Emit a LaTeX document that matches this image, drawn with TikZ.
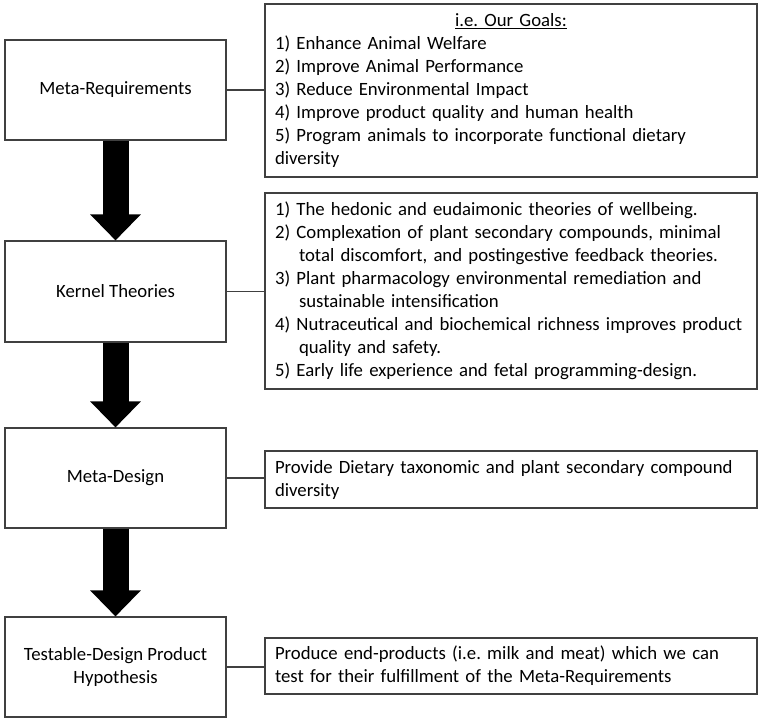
\documentclass[tikz,border=0pt]{standalone}
\usepackage{fontspec}
\setmainfont{Carlito}
\usetikzlibrary{arrows.meta}
\frenchspacing
\begin{document}
\begin{tikzpicture}[x=1pt,y=-1pt,
  box/.style={draw=black!75, line width=1.1pt, fill=white, inner sep=0pt, font=\fontsize{18.75}{23}\selectfont},
  lbox/.style={box, minimum width=221pt, minimum height=100pt, align=center},
  rbox/.style={box, minimum width=492pt, text width=472pt, inner xsep=10pt},
  link/.style={draw=black!75, line width=1.1pt},
  bigarrow/.style={line width=26pt, -{Triangle[width=49pt, length=26pt]}}
]
\useasboundingbox (0,0) rectangle (765,721);
% left column
\node[lbox] (mr) at (115.5,90) {Meta-Requirements};
\node[lbox, minimum height=101pt] (kt) at (115.5,291.5) {Kernel Theories};
\node[lbox] (md) at (115.5,478) {Meta-Design};
\node[lbox] (td) at (115.5,667) {Testable-Design Product\\Hypothesis};
% arrows
\draw[bigarrow] (mr.south) -- (kt.north);
\draw[bigarrow] (kt.south) -- (md.north);
\draw[bigarrow] (md.south) -- (td.north);
% right column
\node[rbox, minimum height=173pt] (goals) at (511,90.5) {\centering\underline{i.e.\ Our Goals:}\par\raggedright
\mbox{1) Enhance Animal Welfare}\\
\mbox{2) Improve Animal Performance}\\
\mbox{3) Reduce Environmental Impact}\\
\mbox{4) Improve product quality and human health}\\
\mbox{5) Program animals to incorporate functional dietary}\\
diversity\par};
\node[rbox, minimum height=196pt] (theo) at (511,291) {\raggedright
\mbox{1) The hedonic and eudaimonic theories of wellbeing.}\\
\mbox{2) Complexation of plant secondary compounds, minimal}\\
\mbox{\hspace*{24pt}total discomfort, and postingestive feedback theories.}\\
\mbox{3) Plant pharmacology environmental remediation and}\\
\mbox{\hspace*{24pt}sustainable intensification}\\
\mbox{4) Nutraceutical and biochemical richness improves product}\\
\mbox{\hspace*{24pt}quality and safety.}\\
\mbox{5) Early life experience and fetal programming-design.}\par};
\node[rbox, minimum height=57pt] (div) at (511,479.5) {\raggedright
\mbox{Provide Dietary taxonomic and plant secondary compound}\\
diversity\par};
\node[rbox, minimum height=56pt] (prod) at (511,666) {\raggedright
\mbox{Produce end-products (i.e.\ milk and meat) which we can}\\
\mbox{test for their fulfillment of the Meta-Requirements}\par};
% connectors
\draw[link] (mr.east) -- (mr.east -| goals.west);
\draw[link] (kt.east) -- (kt.east -| theo.west);
\draw[link] (md.east) -- (md.east -| div.west);
\draw[link] (td.east) -- (td.east -| prod.west);
\end{tikzpicture}
\end{document}
